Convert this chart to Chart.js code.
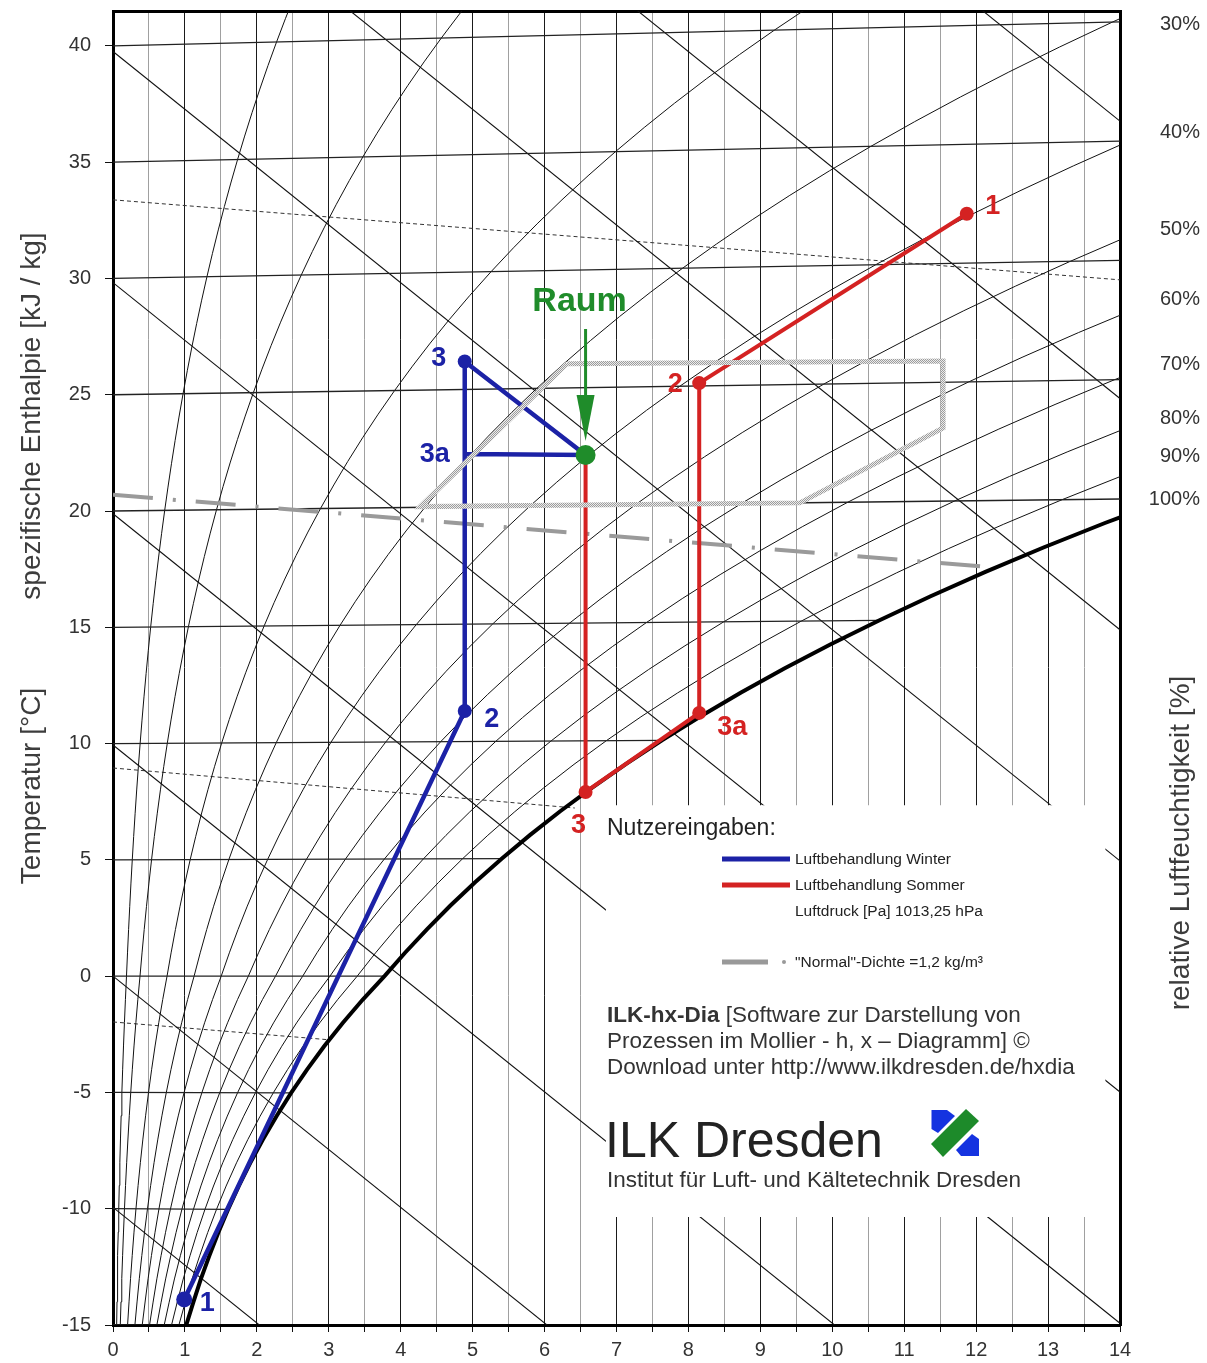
<!DOCTYPE html>
<html><head><meta charset="utf-8"><title>Mollier h,x-Diagramm</title>
<script src="https://cdn.jsdelivr.net/npm/chart.js@4.4.1/dist/chart.umd.min.js"></script>
<style>html,body{margin:0;padding:0;background:#fff;overflow:hidden}canvas{display:block}</style>
</head><body>
<canvas id="chart" width="1207" height="1363"></canvas>
<script>
// ---------------- DATA ----------------
const xTicks = [0,1,2,3,4,5,6,7,8,9,10,11,12,13,14];
const yTicks = [-15,-10,-5,0,5,10,15,20,25,30,35,40];
const isothermTemps = [-15,-10,-5,0,5,10,15,20,25,30,35,40];
const enthalpyLevels = [-10,0,10,20,30,40,50,60,72];
const rhLevels = [0.05,0.1,0.2,0.3,0.4,0.5,0.6,0.7,0.8,0.9];
const rhLabels = ['30%','40%','50%','60%','70%','80%','90%','100%'];
const rhLabelY = [40.9,36.26,32.09,29.08,26.28,24.0,22.33,20.48];
const airPressurePa = 101325;
// saturation pressure table (ice below 0 °C, water above)
const steamTempC = [-15,-14,-13,-12,-11,-10,-9,-8,-7,-6,-5,-4,-3,-2,-1,0,1,2,3,4,5,6,7,8,9,10,11,12,13,14,15,16,17,18,19,20,21,22,23,24,25,26,27,28,29,30,31,32,33,34,35,36,37,38,39,40,41,42,43,44,45,46,47,48,49,50];
const steamPressurePa = [165.2,181.5,198.5,217.6,237.8,259.9,283.9,310.0,338.3,368.9,401.8,437.5,476.0,517.6,562.6,611.2,657.1,706.0,758.0,813.5,872.6,935.4,1002.1,1073.0,1148.2,1228.1,1312.9,1402.7,1497.9,1598.8,1705.6,1818.5,1938.0,2064.4,2197.8,2338.8,2487.7,2644.7,2810.4,2985.0,3169.0,3362.9,3567.0,3781.8,4007.8,4245.5,4495.3,4757.8,5033.5,5322.9,5626.7,5945.3,6279.5,6629.8,6996.9,7381.4,7784.0,8205.4,8646.4,9107.6,9589.8,10094,10620,11171,11745,12344];
// density lines
const rho115X = [0,14],    rho115Y = [33.38,29.94];
const rho125X = [0,6.42],  rho125Y = [8.95,7.23];
const rho130X = [0,3.02],  rho130Y = [-1.97,-2.74];
const rho120X = [0,12.33], rho120Y = [20.7,17.55];
// comfort field
const comfortX = [6.31,11.54,11.54,9.55,4.27,6.31];
const comfortY = [26.33,26.45,23.57,20.35,20.19,26.33];
// processes (polyline order)
const winterNames = ['1','2','3','','3a'];
const winterX = [0.99,4.89,4.89,6.57,4.89];
const winterY = [-13.9,11.4,26.43,22.41,22.45];
const summerNames = ['1','2','3a','3',''];
const summerX = [11.87,8.15,8.15,6.57,6.57];
const summerY = [32.78,25.5,11.32,7.92,22.41];
const roomX = [6.57], roomY = [22.41];
const roomName = 'Raum';
// white legend field
const boxX = [6.85,13.8], boxY = [-10.36,7.35];

// ---------------- helpers ----------------
const SKEW = 1.86/1.006/1000; // per g/kg
const FONT = '"Liberation Sans", Arial, Helvetica, sans-serif';
function xOf(ps, phi){ return 622*phi*ps/(airPressurePa - phi*ps); }
function yOf(t, x){ return t*(1 + SKEW*x); }
function pts(xs, ys){ return xs.map((v,i)=>({x:v, y:ys[i]})); }
function psAt(t){ return steamPressurePa[steamTempC.indexOf(t)]; }
function line(data, o){ return Object.assign({type:'scatter', data, showLine:true, pointRadius:0, borderColor:'#111', borderWidth:1.1, fill:false, tension:0, order:20}, o||{}); }

const datasets = [];
// isotherms
isothermTemps.forEach(t=>{
  const xe = Math.min(xOf(psAt(t),1), 14);
  datasets.push(line([{x:0,y:t},{x:xe,y:yOf(t,xe)}], {borderColor:'#222', borderWidth:1.3}));
});
// enthalpy lines
enthalpyLevels.forEach(h=>{
  datasets.push(line([0,14].map(x=>({x, y:(h-2.501*x)/1.006}))));
});
// relative humidity curves
rhLevels.forEach(phi=>{
  datasets.push(line(steamTempC.map((t,i)=>{const x=xOf(steamPressurePa[i],phi); return {x, y:yOf(t,x)};}), {borderWidth:1}));
});
// saturation curve
datasets.push(line(steamTempC.map((t,i)=>{const x=xOf(steamPressurePa[i],1); return {x, y:yOf(t,x)};}), {borderWidth:4, borderColor:'#000', order:15}));
// thin density lines
[[rho115X,rho115Y],[rho125X,rho125Y],[rho130X,rho130Y]].forEach(([a,b])=>{
  datasets.push(line(pts(a,b), {borderDash:[4,3], borderWidth:1, borderColor:'#333'}));
});
// white field
datasets.push(line([{x:boxX[0],y:boxY[1]},{x:boxX[1],y:boxY[1]}], {borderWidth:0, borderColor:'rgba(0,0,0,0)', backgroundColor:'#fff', fill:{value:boxY[0]}, order:10}));
// "Normal"-density line
datasets.push(line(pts(rho120X,rho120Y), {borderColor:'#9a9a9a', borderWidth:4, borderDash:[40,20,3,20], order:6}));
// processes
const BLUE='#1c22a6', RED='#d42222', GREEN='#1f8c2a';
datasets.push(line(pts(winterX,winterY), {borderColor:BLUE, backgroundColor:BLUE, borderWidth:4.5, pointRadius:[8,7,7,0,0], pointBorderWidth:0, order:3}));
datasets.push(line(pts(summerX,summerY), {borderColor:RED, backgroundColor:RED, borderWidth:4, pointRadius:[7,7,7,7,0], pointBorderWidth:0, order:2}));
// comfort polygon (hatched)
function hatch(){const c=document.createElement('canvas');c.width=2;c.height=2;const g=c.getContext('2d');g.fillStyle='#ececec';g.fillRect(0,0,2,2);g.fillStyle='#9c9c9c';g.fillRect(0,0,1,1);g.fillRect(1,1,1,1);return g.createPattern(c,'repeat');}
datasets.push(line(pts(comfortX,comfortY), {borderColor:hatch(), borderWidth:5, order:1}));
// room point
datasets.push({type:'scatter', data:pts(roomX,roomY), pointRadius:10, pointBorderWidth:0, backgroundColor:GREEN, borderColor:GREEN, order:0});

// ---------------- decoration plugin ----------------
const labelStyle = {
  winter:[[23,4],[27,9],[-26,-3],null,[-30,1]],
  summer:[[26,-7],[-24,1],[33,15],[-7,34],null]
};
const deco = {
  id:'deco',
  afterDraw(chart){
    const ctx=chart.ctx, xs=chart.scales.x, ys=chart.scales.y;
    const px=v=>xs.getPixelForValue(v), py=v=>ys.getPixelForValue(v);
    ctx.save();
    // process labels
    ctx.textAlign='center'; ctx.textBaseline='middle';
    ctx.font='bold 27px '+FONT;
    ctx.fillStyle=BLUE;
    winterNames.forEach((n,i)=>{const o=labelStyle.winter[i]; if(!n||!o) return; ctx.fillText(n, px(winterX[i])+o[0], py(winterY[i])+o[1]);});
    ctx.fillStyle=RED;
    summerNames.forEach((n,i)=>{const o=labelStyle.summer[i]; if(!n||!o) return; ctx.fillText(n, px(summerX[i])+o[0], py(summerY[i])+o[1]);});
    // Raum label + arrow
    const rx=px(roomX[0]), ry=py(roomY[0]);
    ctx.fillStyle=GREEN; ctx.font='bold 34px '+FONT;
    ctx.fillText(roomName, rx-6, ry-153);
    ctx.strokeStyle=GREEN; ctx.lineWidth=3;
    ctx.beginPath(); ctx.moveTo(rx, ry-126); ctx.lineTo(rx, ry-40); ctx.stroke();
    ctx.beginPath(); ctx.moveTo(rx-9, ry-60); ctx.lineTo(rx+9, ry-60); ctx.lineTo(rx, ry-14); ctx.closePath(); ctx.fill();
    // RH labels on right
    ctx.fillStyle='#333'; ctx.font='20px '+FONT; ctx.textAlign='right';
    rhLabels.forEach((t,i)=>ctx.fillText(t, 1200, py(rhLabelY[i])));
    // axis titles
    ctx.font='28px '+FONT; ctx.fillStyle='#3c3c3c'; ctx.textAlign='center';
    const rot=(txt,x,y,a)=>{ctx.save();ctx.translate(x,y);ctx.rotate(a);ctx.fillText(txt,0,0);ctx.restore();};
    rot('spezifische Enthalpie [kJ / kg]', 32, 416, -Math.PI/2);
    rot('Temperatur [°C]', 32, 786, -Math.PI/2);
    rot('relative Luftfeuchtigkeit [%]', 1181, 843, -Math.PI/2);
    // legend field
    ctx.textAlign='left'; ctx.fillStyle='#222';
    ctx.font='23px '+FONT; ctx.fillText('Nutzereingaben:', 607, 829);
    ctx.lineWidth=5;
    ctx.strokeStyle=BLUE; ctx.beginPath(); ctx.moveTo(722,859); ctx.lineTo(790,859); ctx.stroke();
    ctx.strokeStyle=RED; ctx.beginPath(); ctx.moveTo(722,885); ctx.lineTo(790,885); ctx.stroke();
    ctx.strokeStyle='#999'; ctx.beginPath(); ctx.moveTo(722,962); ctx.lineTo(768,962); ctx.stroke();
    ctx.fillStyle='#999'; ctx.beginPath(); ctx.arc(784,962,2,0,Math.PI*2); ctx.fill();
    ctx.fillStyle='#222'; ctx.font='15.5px '+FONT;
    ctx.fillText('Luftbehandlung Winter', 795, 860);
    ctx.fillText('Luftbehandlung Sommer', 795, 886);
    ctx.fillText('Luftdruck [Pa] 1013,25 hPa', 795, 912);
    ctx.fillText('"Normal"-Dichte =1,2 kg/m³', 795, 963);
    // software note
    ctx.fillStyle='#333';
    ctx.font='bold 22.5px '+FONT; ctx.fillText('ILK-hx-Dia', 607, 1016);
    const w=ctx.measureText('ILK-hx-Dia').width;
    ctx.font='22.5px '+FONT; ctx.fillText(' [Software zur Darstellung von', 607+w, 1016);
    ctx.fillText('Prozessen im Mollier - h, x – Diagramm] ©', 607, 1042);
    ctx.fillText('Download unter http://www.ilkdresden.de/hxdia', 607, 1068);
    ctx.fillStyle='#222'; ctx.font='50px '+FONT; ctx.textBaseline='alphabetic';
    ctx.fillText('ILK Dresden', 605, 1157);
    ctx.font='22.5px '+FONT; ctx.textBaseline='middle'; ctx.fillStyle='#333';
    ctx.fillText('Institut für Luft- und Kältetechnik Dresden', 607, 1181);
    // logo
    const L=(x,y)=>[930+x*50, 1108+y*50];
    const poly=(arr,c)=>{ctx.fillStyle=c;ctx.beginPath();arr.forEach((p,i)=>{const q=L(p[0],p[1]); i?ctx.lineTo(q[0],q[1]):ctx.moveTo(q[0],q[1]);});ctx.closePath();ctx.fill();};
    poly([[0.03,0.04],[0.34,0.04],[0.50,0.16],[0.16,0.50],[0.03,0.42]], '#1533e0');
    poly([[0.84,0.52],[0.98,0.62],[0.98,0.96],[0.62,0.96],[0.52,0.84]], '#1533e0');
    poly([[0.72,0.02],[0.98,0.26],[0.26,0.98],[0.02,0.72]], '#1d8a2a');
    ctx.restore();
  }
};
const noPad = s=>{s.paddingTop=0; s.paddingBottom=0; s.paddingLeft=0; s.paddingRight=0;};

new Chart(document.getElementById('chart'), {
  type:'scatter',
  data:{datasets},
  options:{
    responsive:false, animation:false, events:[],
    layout:{padding:0},
    plugins:{legend:{display:false}, tooltip:{enabled:false}},
    scales:{
      x:{type:'linear', position:'bottom', min:0, max:14,
        ticks:{stepSize:0.5, autoSkip:false, maxRotation:0, padding:6, color:'#333', font:{family:FONT, size:20},
          callback:v=> xTicks.includes(v) ? String(v) : ''},
        grid:{color:c=> (c.tick && xTicks.includes(c.tick.value)) ? '#1a1a1a' : '#a0a0a0', lineWidth:1, tickLength:7, tickColor:'#111'},
        border:{display:true, color:'#000', width:3},
        afterFit:s=>{s.height=38; noPad(s);}},
      y:{type:'linear', position:'left', min:-15, max:41.5,
        afterBuildTicks:s=>{s.ticks=yTicks.map(v=>({value:v}));},
        ticks:{padding:14, color:'#333', font:{family:FONT, size:20}},
        grid:{drawOnChartArea:false, tickLength:8, color:'#111'},
        border:{display:true, color:'#000', width:3},
        afterFit:s=>{s.width=113; noPad(s);}},
      xTop:{type:'linear', position:'top', min:0, max:14,
        ticks:{display:false}, grid:{drawOnChartArea:false, drawTicks:false},
        border:{display:true, color:'#000', width:3},
        afterFit:s=>{s.height=11; noPad(s);}},
      yR:{type:'linear', position:'right', min:-15, max:41.5,
        ticks:{display:false}, grid:{drawOnChartArea:false, drawTicks:false},
        border:{display:true, color:'#000', width:3},
        afterFit:s=>{s.width=87; noPad(s);}}
    }
  },
  plugins:[deco]
});
</script>
</body></html>
